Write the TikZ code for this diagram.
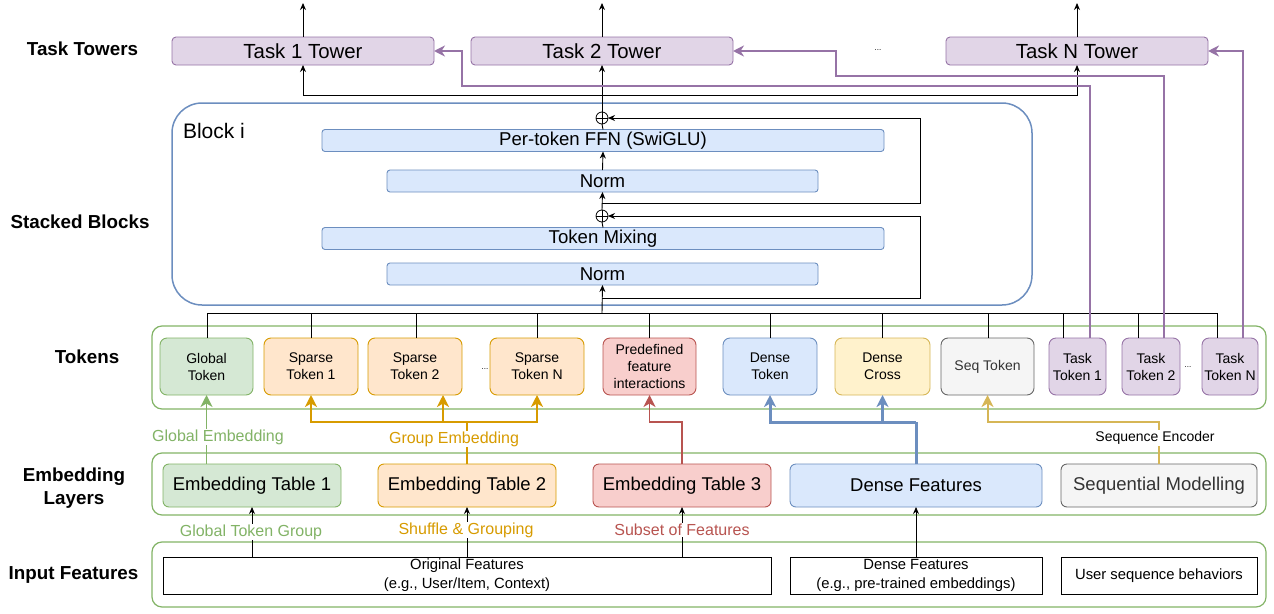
\documentclass[tikz,border=0pt]{standalone}
\usepackage{fontspec}
\setmainfont{Liberation Sans}
\usetikzlibrary{arrows.meta,calc}
\definecolor{grF}{HTML}{D5E8D4}\definecolor{grD}{HTML}{82B366}
\definecolor{orF}{HTML}{FFE6CC}\definecolor{orD}{HTML}{D79B00}
\definecolor{rdF}{HTML}{F8CECC}\definecolor{rdD}{HTML}{B85450}
\definecolor{blF}{HTML}{DAE8FC}\definecolor{blD}{HTML}{6C8EBF}
\definecolor{yeF}{HTML}{FFF2CC}\definecolor{yeD}{HTML}{D6B656}
\definecolor{gyF}{HTML}{F5F5F5}\definecolor{gyD}{HTML}{666666}\definecolor{gyT}{HTML}{333333}
\definecolor{puF}{HTML}{E1D5E7}\definecolor{puD}{HTML}{9673A6}
\newcommand\myfBig{\fontsize{18.6}{22}\selectfont}
\newcommand\myfTow{\fontsize{20.4}{24}\selectfont}
\newcommand\myfEmb{\fontsize{18.5}{22}\selectfont}
\newcommand\myfTok{\fontsize{14}{17}\selectfont}
\newcommand\myfIn{\fontsize{14.8}{19}\selectfont}
\newcommand\myfLab{\fontsize{16}{19}\selectfont}
\newcommand\myfSide{\fontsize{18.8}{23}\selectfont\bfseries}
\begin{document}
\begin{tikzpicture}[x=1pt,y=-1pt,
  every node/.style={inner sep=0pt,outer sep=0pt},
  ln/.style={line width=0.9pt},
  arr/.style={line width=0.9pt,-{Stealth[length=7pt,width=6pt]}},
  carr/.style={-{Stealth[length=12pt,width=12pt,inset=3.5pt]}},
  side/.style={font=\myfSide,align=center},
  cont/.style={draw=grD,line width=1.2pt,rounded corners=10pt},
  tower/.style={draw=puD,fill=puF,line width=0.9pt,rounded corners=4pt,minimum width=262pt,minimum height=28pt,font=\myfTow},
  inner/.style={draw=blD,fill=blF,line width=0.9pt,rounded corners=3pt,minimum height=22pt,font=\myfBig},
  tok/.style={line width=0.9pt,rounded corners=7pt,minimum height=57pt,align=center,font=\myfTok},
  emb/.style={line width=0.9pt,rounded corners=6pt,minimum height=43pt,font=\myfEmb},
  inp/.style={draw=black,line width=0.9pt,minimum height=37pt,align=center,font=\myfIn},
  cG/.style={draw=grD,fill=grF},
  cO/.style={draw=orD,fill=orF},
  cR/.style={draw=rdD,fill=rdF},
  cB/.style={draw=blD,fill=blF},
  cY/.style={draw=yeD,fill=yeF},
  cY2/.style={draw=gyD,fill=gyF,text=gyT},
  cP/.style={draw=puD,fill=puF},
  plus/.style={circle,draw,line width=0.8pt,minimum size=12pt,fill=white,
    path picture={\draw[line width=0.8pt] (path picture bounding box.north)--(path picture bounding box.south) (path picture bounding box.west)--(path picture bounding box.east);}},
  lab/.style={fill=white,font=\myfLab,inner sep=1pt},
  pur/.style={draw=puD,line width=1.6pt,-{Stealth[length=11pt,width=11pt,inset=3.5pt]}}
]
\useasboundingbox (0,0) rectangle (1274,613);

% side labels
\node[side] (lTT) at (82.5,49) {Task Towers};
\node[side] (lSB) at (80,222) {Stacked Blocks};
\node[side] (lTk) at (87,357) {Tokens};
\node[side] (lEL) at (74,488) {Embedding\\Layers};
\node[side] (lIF) at (73.5,575) {Input Features};

% containers
\node[cont,minimum width=1114pt,minimum height=83pt] (ctok) at (709,367.5) {};
\node[cont,minimum width=1114pt,minimum height=62pt] (cemb) at (709,484) {};
\node[cont,minimum width=1114pt,minimum height=65pt] (cinp) at (709,574.5) {};
\node[draw=blD,line width=1.5pt,rounded corners=30pt,minimum width=860pt,minimum height=202pt] (blk) at (602,204) {};
\node[anchor=west,font=\fontsize{21}{24}\selectfont] (blkl) at (183,131) {Block i};

% towers
\node[tower] (t1) at (303,51) {Task 1 Tower};
\node[tower] (t2) at (602,51) {Task 2 Tower};
\node[tower] (tN) at (1077,51) {Task N Tower};
\node[font=\fontsize{8}{9}\selectfont] (tdots) at (878,50) {...};
\coordinate (o1) at (303,3);
\coordinate (o2) at (602,3);
\coordinate (oN) at (1077,3);
\draw[arr] (t1.north) -- (o1);
\draw[arr] (t2.north) -- (o2);
\draw[arr] (tN.north) -- (oN);

% block internals
\node[inner,minimum width=562pt] (ffn) at (603,140.5) {Per-token FFN (SwiGLU)};
\node[inner,minimum width=431pt] (n1) at (602.5,181) {Norm};
\node[inner,minimum width=562pt] (tm) at (603,238.5) {Token Mixing};
\node[inner,minimum width=431pt] (n2) at (602.5,274) {Norm};
\node[plus] (p1) at (602,118) {};
\node[plus] (p2) at (602,216) {};

\coordinate (bus) at (602,313);
\draw[arr] (bus) -- (n2.south);
\draw[ln] (tm.north) -- (p2.south);
\draw[arr] (p2.north) -- (n1.south);
\draw[arr] (n1.north) -- (ffn.south);
\draw[ln] (ffn.north) -- (p1.south);
\draw[arr] (602,203) -- (920,203) -- (920,118) -- (p1.east);
\draw[arr] (602,298) -- (920,298) -- (920,216) -- (p2.east);

% task outputs
\draw[arr] (p1.north) -- (t2.south);
\draw[arr] (602,95) -| (t1.south);
\draw[arr] (602,95) -| (tN.south);

% tokens
\node[tok,cG,minimum width=93pt] (gt) at (206.5,366.5) {Global\\Token};
\node[tok,cO,minimum width=94pt] (s1) at (311,366.5) {Sparse\\Token 1};
\node[tok,cO,minimum width=94pt] (s2) at (415,366.5) {Sparse\\Token 2};
\node[tok,cO,minimum width=94pt] (sN) at (537,366.5) {Sparse\\Token N};
\node[tok,cR,minimum width=93pt] (pf) at (649.5,366.5) {Predefined\\feature\\interactions};
\node[tok,cB,minimum width=94pt] (dt) at (770,366.5) {Dense\\Token};
\node[tok,cY,minimum width=95pt] (dc) at (882.5,366.5) {Dense\\Cross};
\node[tok,cY2,minimum width=93pt] (sq) at (987.5,366.5) {Seq Token};
\node[tok,cP,minimum width=57pt] (tt1) at (1077.5,366.5) {Task\\Token 1};
\node[tok,cP,minimum width=58pt] (tt2) at (1151,366.5) {Task\\Token 2};
\node[tok,cP,minimum width=56pt] (ttN) at (1230,366.5) {Task\\Token N};
\node[font=\fontsize{8}{9}\selectfont] (d1) at (485,369) {...};
\node[font=\fontsize{8}{9}\selectfont] (d2) at (1188,367) {...};

% token bus
\draw[ln] (207,313) -- (1217,313);
\foreach \n/\dx in {gt/0.5,s1/0,s2/1,sN/0,pf/-0.5,dt/0,dc/-0.5,sq/0.5,tt1/-14.5,tt2/-13,ttN/-13}
  \draw[ln] ([xshift=\dx pt]\n.north) -- ++(0,-25);

% purple task-token routes
\draw[pur] ([xshift=12.5pt]tt1.north) |- (462,86) |- (t1.east);
\draw[pur] ([xshift=13pt]tt2.north) |- (836,76) |- (t2.east);
\draw[pur] ([xshift=13pt]ttN.north) |- (tN.east);

% embedding layers
\node[emb,cG,minimum width=178pt] (e1) at (252,485.5) {Embedding Table 1};
\node[emb,cO,minimum width=178pt] (e2) at (467,485.5) {Embedding Table 2};
\node[emb,cR,minimum width=178pt] (e3) at (682,485.5) {Embedding Table 3};
\node[emb,cB,minimum width=252pt] (df) at (916,485.5) {Dense Features};
\node[emb,cY2,minimum width=196pt] (sm) at (1159,485.5) {Sequential Modelling};

% embedding -> tokens
\draw[grD,line width=1.5pt,carr] (gt.south |- e1.north) -- (gt.south);
\draw[orD,line width=2pt] (e2.north) -- (467,422);
\draw[orD,line width=2pt,carr] (467,422) -| (s1.south);
\draw[orD,line width=2pt,carr] (467,422) -| ([xshift=28pt]s2.south);
\draw[orD,line width=2pt,carr] (467,422) -| (sN.south);
\draw[rdD,line width=1.5pt,carr] (e3.north) |- (649.5,422) -- (pf.south);
\draw[blD,line width=3pt] (df.north) -- (916,422);
\draw[blD,line width=3pt,carr] (916,422) -| (dt.south);
\draw[blD,line width=3pt,carr] (916,422) -| (dc.south);
\draw[yeD,line width=2pt,carr] (sm.north) |- (987.5,422) -- (sq.south);
\node[lab,text=grD] (lge) at (218,437) {Global Embedding};
\node[lab,text=orD] (lgr) at (454,439) {Group Embedding};
\node[lab,font=\fontsize{14}{17}\selectfont] (lse) at (1155,438) {Sequence Encoder};

% input features
\node[inp,minimum width=608pt] (of) at (467,575.5) {Original Features\\(e.g., User/Item, Context)};
\node[inp,minimum width=252pt] (dfi) at (916,575.5) {Dense Features\\(e.g., pre-trained embeddings)};
\node[inp,minimum width=196pt] (usb) at (1159,575.5) {User sequence behaviors};

\draw[arr] (e1.south |- of.north) -- (e1.south);
\draw[arr] (e2.south |- of.north) -- (e2.south);
\draw[arr] (e3.south |- of.north) -- (e3.south);
\draw[arr] (dfi.north) -- (df.south);
\node[lab,text=grD] (lgt) at (251,532) {Global Token Group};
\node[lab,text=orD] (lsg) at (466,530) {Shuffle \& Grouping};
\node[lab,text=rdD] (lsf) at (682,530) {Subset of Features};
\end{tikzpicture}
\end{document}
